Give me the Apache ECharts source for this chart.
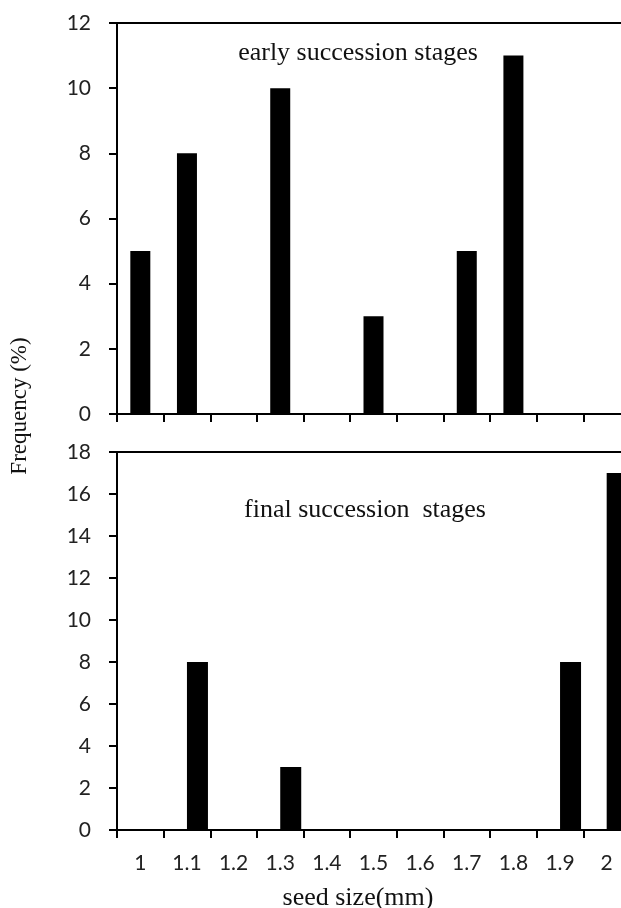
<!DOCTYPE html>
<html>
<head>
<meta charset="utf-8">
<script src="https://cdn.jsdelivr.net/npm/echarts@6/dist/echarts.min.js"></script>
<style>
html,body{margin:0;padding:0;background:#fff;}
#chart{width:621px;height:908px;}
</style>
</head>
<body>
<div id="chart"></div>
<script>
const categories = ['1','1.1','1.2','1.3','1.4','1.5','1.6','1.7','1.8','1.9','2'];
const earlyValues = [5, 8, null, 10, null, 3, null, 5, 11, null, null];
const finalBlank = [null, null, null, null, null, null, null, null, null, null, null];
const finalValues = [null, 8, null, 3, null, null, null, null, null, 8, 17];
const earlyMax = 12;
const finalMax = 18;
const yStep = 2;
const earlyTitle = 'early succession stages';
const finalTitle = 'final succession  stages';
const xTitle = 'seed size(mm)';
const yTitle = 'Frequency (%)';

const serif = '"Liberation Serif", "DejaVu Serif", serif';
const sans = 'Lato, "Open Sans", sans-serif';

const axisLine = {show: true, lineStyle: {color: '#000', width: 2}};
const axisTick = {show: true, length: 8, lineStyle: {color: '#000', width: 2}};

const chart = echarts.init(document.getElementById('chart'), null, {renderer: 'canvas'});
chart.setOption({
  animation: false,
  backgroundColor: '#fff',
  grid: [
    {left: 117, top: 23, width: 513, height: 391, show: true, borderColor: '#000', borderWidth: 2,
     containLabel: false, outerBoundsMode: 'none'},
    {left: 117, top: 452, width: 513, height: 378, show: true, borderColor: '#000', borderWidth: 2,
     containLabel: false, outerBoundsMode: 'none'}
  ],
  xAxis: [
    {type: 'category', gridIndex: 0, data: categories, boundaryGap: true,
     axisLine: axisLine, axisTick: Object.assign({alignWithLabel: false, interval: 0}, axisTick),
     axisLabel: {show: false}, splitLine: {show: false}},
    {type: 'category', gridIndex: 1, data: categories, boundaryGap: true,
     axisLine: axisLine, axisTick: Object.assign({alignWithLabel: false, interval: 0}, axisTick),
     axisLabel: {show: true, interval: 0, margin: 23, color: '#222', fontFamily: sans, fontSize: 21},
     splitLine: {show: false}}
  ],
  yAxis: [
    {type: 'value', gridIndex: 0, min: 0, max: earlyMax, interval: yStep,
     axisLine: axisLine, axisTick: axisTick,
     axisLabel: {margin: 26, color: '#222', fontFamily: sans, fontSize: 21},
     splitLine: {show: false}},
    {type: 'value', gridIndex: 1, min: 0, max: finalMax, interval: yStep,
     axisLine: axisLine, axisTick: axisTick,
     axisLabel: {margin: 26, color: '#222', fontFamily: sans, fontSize: 21},
     splitLine: {show: false}}
  ],
  series: [
    {type: 'bar', name: 'early', xAxisIndex: 0, yAxisIndex: 0, data: earlyValues,
     barWidth: 20, itemStyle: {color: '#000'}},
    {type: 'bar', name: 'blank', xAxisIndex: 1, yAxisIndex: 1, data: finalBlank,
     barWidth: 21, barGap: '0%', itemStyle: {color: '#000'}},
    {type: 'bar', name: 'final', xAxisIndex: 1, yAxisIndex: 1, data: finalValues,
     barWidth: 21, barGap: '0%', itemStyle: {color: '#000'}}
  ],
  graphic: [
    {type: 'text', x: 358, y: 53,
     style: {text: earlyTitle, font: '26px ' + serif, fill: '#111', align: 'center', verticalAlign: 'middle'}},
    {type: 'text', x: 365, y: 510,
     style: {text: finalTitle, font: '26px ' + serif, fill: '#111', align: 'center', verticalAlign: 'middle'}},
    {type: 'text', x: 358, y: 898,
     style: {text: xTitle, font: '26px ' + serif, fill: '#111', align: 'center', verticalAlign: 'middle'}},
    {type: 'text', x: 20, y: 406, rotation: Math.PI / 2,
     style: {text: yTitle, font: '23px ' + serif, fill: '#111', align: 'center', verticalAlign: 'middle'}}
  ]
});
</script>
</body>
</html>
